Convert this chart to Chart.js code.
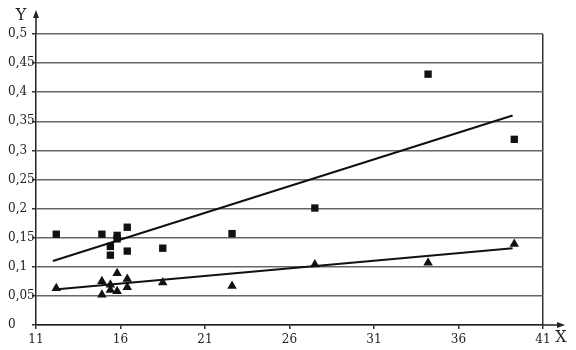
<!DOCTYPE html>
<html>
<head>
<meta charset="utf-8">
<script src="https://cdn.jsdelivr.net/npm/chart.js@4"></script>
<style>
  html, body { margin: 0; padding: 0; background: #fff; }
  #wrap { width: 576px; height: 350px; }
</style>
</head>
<body>
<div id="wrap"><canvas id="chart" width="576" height="350"></canvas></div>
<script>
// squares
var sqX = [12.2, 14.9, 15.4, 15.4, 15.8, 15.8, 16.4, 16.4, 18.5, 22.6, 27.5, 34.2, 39.3];
var sqY = [0.156, 0.156, 0.135, 0.12, 0.154, 0.148, 0.168, 0.127, 0.132, 0.157, 0.201, 0.431, 0.319];
// triangles
var triX = [12.2, 14.9, 14.9, 15.4, 15.4, 15.8, 15.8, 16.4, 16.4, 18.5, 22.6, 27.5, 34.2, 39.3];
var triY = [0.063, 0.075, 0.052, 0.069, 0.06, 0.089, 0.058, 0.079, 0.065, 0.073, 0.067, 0.104, 0.107, 0.139];
// trend lines
var upX = [12, 39.2];
var upY = [0.11, 0.36];
var lowX = [12.1, 39.2];
var lowY = [0.061, 0.132];

function pts(xs, ys){
	var out = [];
	for (var i = 0; i < xs.length; i++) { out.push({x: xs[i], y: ys[i]}); }
	return out;
}

var tickFont = { family: "DejaVu Serif", size: 12 };

// arrows and axis names
var arrows = {
	id: 'arrows',
	afterDraw: function(chart){
		var ctx = chart.ctx, a = chart.chartArea;
		ctx.save();
		ctx.strokeStyle = '#222';
		ctx.fillStyle = '#222';
		ctx.lineWidth = 1.5;
		ctx.beginPath();
		ctx.moveTo(a.left, a.top); ctx.lineTo(a.left, 13);
		ctx.moveTo(a.right, a.bottom); ctx.lineTo(562, a.bottom);
		ctx.stroke();
		ctx.beginPath();
		ctx.moveTo(a.left, 10); ctx.lineTo(a.left - 3, 18); ctx.lineTo(a.left + 3, 18); ctx.closePath();
		ctx.moveTo(565, a.bottom); ctx.lineTo(557, a.bottom - 3); ctx.lineTo(557, a.bottom + 3); ctx.closePath();
		ctx.fill();
		ctx.font = '16px "DejaVu Serif"';
		ctx.textBaseline = 'middle';
		ctx.textAlign = 'center';
		ctx.fillText('Y', 21, 16);
		ctx.fillText('X', 561, 338);
		ctx.restore();
	}
};

new Chart(document.getElementById('chart'), {
	type: 'scatter',
	data: {
		datasets: [
			{ data: pts(sqX, sqY), pointStyle: 'rect', pointRadius: 5.2, backgroundColor: '#111', borderColor: '#111', borderWidth: 0 },
			{ data: pts(triX, triY), pointStyle: 'triangle', pointRadius: 5.5, backgroundColor: '#111', borderColor: '#111', borderWidth: 0 },
			{ type: 'line', data: pts(upX, upY), borderColor: '#111', borderWidth: 2, pointRadius: 0, fill: false },
			{ type: 'line', data: pts(lowX, lowY), borderColor: '#111', borderWidth: 2, pointRadius: 0, fill: false }
		]
	},
	options: {
		responsive: false,
		animation: false,
		layout: { padding: { left: 8, top: 34, right: 33, bottom: 0 } },
		plugins: { legend: { display: false }, tooltip: { enabled: false } },
		scales: {
			x: {
				type: 'linear', min: 11, max: 41,
				afterFit: function(s){ s.height = 25; },
				border: { color: '#222', width: 1.5 },
				grid: {
					color: function(c){ return c.tick && c.tick.value === 41 ? '#333' : 'rgba(0,0,0,0)'; },
					tickColor: '#333', tickLength: 4, lineWidth: 1.5
				},
				ticks: { stepSize: 5, color: '#222', font: tickFont, padding: 4, maxRotation: 0 }
			},
			y: {
				type: 'linear', min: 0, max: 0.5,
				afterFit: function(s){ s.width = 28; },
				border: { color: '#222', width: 1.5 },
				grid: { color: '#666', tickColor: '#333', tickLength: 4, lineWidth: 1.5 },
				ticks: {
					stepSize: 0.05, color: '#222', font: tickFont, padding: 2, crossAlign: 'far',
					callback: function(v){ return Number(v.toFixed(2)).toString().replace('.', ','); }
				}
			}
		}
	},
	plugins: [arrows]
});
</script>
</body>
</html>
